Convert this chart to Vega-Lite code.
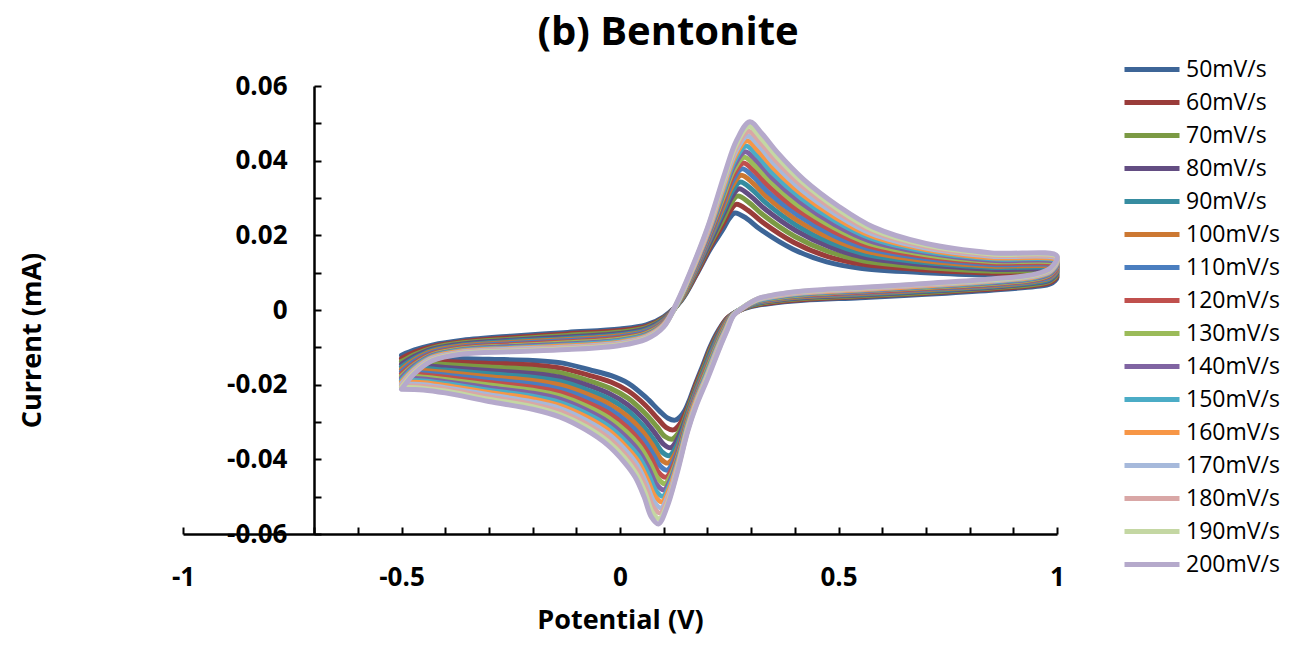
{
"$schema": "https://vega.github.io/schema/vega-lite/v6.json",
"width": 874, "height": 448,
"autosize": "none",
"padding": {"left": 183, "top": 86, "right": 234, "bottom": 111},
"background": "white",
"config": {"view": {"stroke": null}, "font": "Open Sans"},
"title": {"text": "(b) Bentonite", "fontSize": 40, "fontWeight": "bold", "font": "Open Sans", "color": "black", "anchor": "middle", "dx": 48, "offset": -31, "baseline": "alphabetic"},
"data": {"values": [
{"s":50,"o":0,"x":-0.5,"y":-0.0121},{"s":50,"o":1,"x":-0.47,"y":-0.0107},{"s":50,"o":2,"x":-0.43,"y":-0.0094},{"s":50,"o":3,"x":-0.36,"y":-0.0081},{"s":50,"o":4,"x":-0.25,"y":-0.0070},{"s":50,"o":5,"x":-0.12,"y":-0.0060},{"s":50,"o":6,"x":0,"y":-0.0051},{"s":50,"o":7,"x":0.06,"y":-0.0040},{"s":50,"o":8,"x":0.1,"y":-0.0018},{"s":50,"o":9,"x":0.14,"y":0.0025},{"s":50,"o":10,"x":0.175,"y":0.0095},{"s":50,"o":11,"x":0.205,"y":0.0160},{"s":50,"o":12,"x":0.235,"y":0.0215},{"s":50,"o":13,"x":0.25,"y":0.0245},{"s":50,"o":14,"x":0.263,"y":0.0260},{"s":50,"o":15,"x":0.29,"y":0.0245},{"s":50,"o":16,"x":0.32,"y":0.0217},{"s":50,"o":17,"x":0.396,"y":0.0163},{"s":50,"o":18,"x":0.473,"y":0.0129},{"s":50,"o":19,"x":0.55,"y":0.0112},{"s":50,"o":20,"x":0.7,"y":0.0100},{"s":50,"o":21,"x":0.85,"y":0.0093},{"s":50,"o":22,"x":1,"y":0.0088},{"s":50,"o":23,"x":0.985,"y":0.0070},{"s":50,"o":24,"x":0.95,"y":0.0063},{"s":50,"o":25,"x":0.85,"y":0.0053},{"s":50,"o":26,"x":0.7,"y":0.0042},{"s":50,"o":27,"x":0.55,"y":0.0033},{"s":50,"o":28,"x":0.42,"y":0.0026},{"s":50,"o":29,"x":0.34,"y":0.0017},{"s":50,"o":30,"x":0.3,"y":0.0009},{"s":50,"o":31,"x":0.27,"y":-0.0003},{"s":50,"o":32,"x":0.245,"y":-0.0022},{"s":50,"o":33,"x":0.225,"y":-0.0055},{"s":50,"o":34,"x":0.206,"y":-0.0099},{"s":50,"o":35,"x":0.19,"y":-0.0147},{"s":50,"o":36,"x":0.172,"y":-0.0200},{"s":50,"o":37,"x":0.16,"y":-0.0238},{"s":50,"o":38,"x":0.148,"y":-0.0270},{"s":50,"o":39,"x":0.137,"y":-0.0287},{"s":50,"o":40,"x":0.126,"y":-0.0295},{"s":50,"o":41,"x":0.11,"y":-0.0290},{"s":50,"o":42,"x":0.09,"y":-0.0270},{"s":50,"o":43,"x":0.06,"y":-0.0235},{"s":50,"o":44,"x":0.02,"y":-0.0197},{"s":50,"o":45,"x":-0.02,"y":-0.0176},{"s":50,"o":46,"x":-0.07,"y":-0.0160},{"s":50,"o":47,"x":-0.137,"y":-0.0141},{"s":50,"o":48,"x":-0.2,"y":-0.0135},{"s":50,"o":49,"x":-0.3,"y":-0.0132},{"s":50,"o":50,"x":-0.4,"y":-0.0129},{"s":50,"o":51,"x":-0.45,"y":-0.0126},{"s":50,"o":52,"x":-0.5,"y":-0.0122},
{"s":60,"o":0,"x":-0.5,"y":-0.0130},{"s":60,"o":1,"x":-0.47,"y":-0.0113},{"s":60,"o":2,"x":-0.43,"y":-0.0098},{"s":60,"o":3,"x":-0.36,"y":-0.0085},{"s":60,"o":4,"x":-0.25,"y":-0.0074},{"s":60,"o":5,"x":-0.12,"y":-0.0064},{"s":60,"o":6,"x":0,"y":-0.0055},{"s":60,"o":7,"x":0.06,"y":-0.0044},{"s":60,"o":8,"x":0.1,"y":-0.0021},{"s":60,"o":9,"x":0.139,"y":0.0025},{"s":60,"o":10,"x":0.174,"y":0.0095},{"s":60,"o":11,"x":0.205,"y":0.0166},{"s":60,"o":12,"x":0.235,"y":0.0229},{"s":60,"o":13,"x":0.252,"y":0.0265},{"s":60,"o":14,"x":0.266,"y":0.0283},{"s":60,"o":15,"x":0.293,"y":0.0267},{"s":60,"o":16,"x":0.324,"y":0.0237},{"s":60,"o":17,"x":0.398,"y":0.0181},{"s":60,"o":18,"x":0.476,"y":0.0143},{"s":60,"o":19,"x":0.553,"y":0.0123},{"s":60,"o":20,"x":0.7,"y":0.0107},{"s":60,"o":21,"x":0.85,"y":0.0099},{"s":60,"o":22,"x":1,"y":0.0093},{"s":60,"o":23,"x":0.985,"y":0.0074},{"s":60,"o":24,"x":0.95,"y":0.0066},{"s":60,"o":25,"x":0.85,"y":0.0056},{"s":60,"o":26,"x":0.7,"y":0.0045},{"s":60,"o":27,"x":0.55,"y":0.0036},{"s":60,"o":28,"x":0.42,"y":0.0028},{"s":60,"o":29,"x":0.342,"y":0.0019},{"s":60,"o":30,"x":0.301,"y":0.0011},{"s":60,"o":31,"x":0.271,"y":-0.0002},{"s":60,"o":32,"x":0.246,"y":-0.0021},{"s":60,"o":33,"x":0.227,"y":-0.0055},{"s":60,"o":34,"x":0.208,"y":-0.0099},{"s":60,"o":35,"x":0.191,"y":-0.0151},{"s":60,"o":36,"x":0.172,"y":-0.0205},{"s":60,"o":37,"x":0.16,"y":-0.0246},{"s":60,"o":38,"x":0.146,"y":-0.0286},{"s":60,"o":39,"x":0.134,"y":-0.0310},{"s":60,"o":40,"x":0.122,"y":-0.0321},{"s":60,"o":41,"x":0.106,"y":-0.0315},{"s":60,"o":42,"x":0.087,"y":-0.0292},{"s":60,"o":43,"x":0.058,"y":-0.0255},{"s":60,"o":44,"x":0.019,"y":-0.0217},{"s":60,"o":45,"x":-0.021,"y":-0.0193},{"s":60,"o":46,"x":-0.071,"y":-0.0175},{"s":60,"o":47,"x":-0.137,"y":-0.0155},{"s":60,"o":48,"x":-0.2,"y":-0.0147},{"s":60,"o":49,"x":-0.3,"y":-0.0143},{"s":60,"o":50,"x":-0.4,"y":-0.0138},{"s":60,"o":51,"x":-0.45,"y":-0.0134},{"s":60,"o":52,"x":-0.5,"y":-0.0131},
{"s":70,"o":0,"x":-0.5,"y":-0.0138},{"s":70,"o":1,"x":-0.47,"y":-0.0119},{"s":70,"o":2,"x":-0.43,"y":-0.0102},{"s":70,"o":3,"x":-0.36,"y":-0.0088},{"s":70,"o":4,"x":-0.25,"y":-0.0078},{"s":70,"o":5,"x":-0.12,"y":-0.0068},{"s":70,"o":6,"x":0,"y":-0.0059},{"s":70,"o":7,"x":0.06,"y":-0.0047},{"s":70,"o":8,"x":0.1,"y":-0.0023},{"s":70,"o":9,"x":0.138,"y":0.0024},{"s":70,"o":10,"x":0.172,"y":0.0096},{"s":70,"o":11,"x":0.204,"y":0.0171},{"s":70,"o":12,"x":0.236,"y":0.0243},{"s":70,"o":13,"x":0.253,"y":0.0283},{"s":70,"o":14,"x":0.269,"y":0.0305},{"s":70,"o":15,"x":0.296,"y":0.0287},{"s":70,"o":16,"x":0.327,"y":0.0255},{"s":70,"o":17,"x":0.4,"y":0.0197},{"s":70,"o":18,"x":0.478,"y":0.0156},{"s":70,"o":19,"x":0.556,"y":0.0132},{"s":70,"o":20,"x":0.7,"y":0.0114},{"s":70,"o":21,"x":0.85,"y":0.0104},{"s":70,"o":22,"x":1,"y":0.0098},{"s":70,"o":23,"x":0.985,"y":0.0078},{"s":70,"o":24,"x":0.95,"y":0.0069},{"s":70,"o":25,"x":0.85,"y":0.0059},{"s":70,"o":26,"x":0.7,"y":0.0047},{"s":70,"o":27,"x":0.55,"y":0.0038},{"s":70,"o":28,"x":0.42,"y":0.0031},{"s":70,"o":29,"x":0.344,"y":0.0022},{"s":70,"o":30,"x":0.303,"y":0.0013},{"s":70,"o":31,"x":0.272,"y":-0.0002},{"s":70,"o":32,"x":0.248,"y":-0.0021},{"s":70,"o":33,"x":0.229,"y":-0.0055},{"s":70,"o":34,"x":0.21,"y":-0.0099},{"s":70,"o":35,"x":0.192,"y":-0.0154},{"s":70,"o":36,"x":0.173,"y":-0.0210},{"s":70,"o":37,"x":0.159,"y":-0.0254},{"s":70,"o":38,"x":0.145,"y":-0.0301},{"s":70,"o":39,"x":0.132,"y":-0.0332},{"s":70,"o":40,"x":0.119,"y":-0.0346},{"s":70,"o":41,"x":0.103,"y":-0.0339},{"s":70,"o":42,"x":0.084,"y":-0.0312},{"s":70,"o":43,"x":0.055,"y":-0.0274},{"s":70,"o":44,"x":0.018,"y":-0.0236},{"s":70,"o":45,"x":-0.022,"y":-0.0210},{"s":70,"o":46,"x":-0.072,"y":-0.0189},{"s":70,"o":47,"x":-0.137,"y":-0.0168},{"s":70,"o":48,"x":-0.2,"y":-0.0159},{"s":70,"o":49,"x":-0.3,"y":-0.0153},{"s":70,"o":50,"x":-0.4,"y":-0.0146},{"s":70,"o":51,"x":-0.45,"y":-0.0142},{"s":70,"o":52,"x":-0.5,"y":-0.0139},
{"s":80,"o":0,"x":-0.5,"y":-0.0145},{"s":80,"o":1,"x":-0.47,"y":-0.0124},{"s":80,"o":2,"x":-0.43,"y":-0.0105},{"s":80,"o":3,"x":-0.36,"y":-0.0091},{"s":80,"o":4,"x":-0.25,"y":-0.0081},{"s":80,"o":5,"x":-0.12,"y":-0.0072},{"s":80,"o":6,"x":0,"y":-0.0063},{"s":80,"o":7,"x":0.06,"y":-0.0050},{"s":80,"o":8,"x":0.1,"y":-0.0025},{"s":80,"o":9,"x":0.137,"y":0.0024},{"s":80,"o":10,"x":0.171,"y":0.0096},{"s":80,"o":11,"x":0.204,"y":0.0176},{"s":80,"o":12,"x":0.236,"y":0.0255},{"s":80,"o":13,"x":0.255,"y":0.0301},{"s":80,"o":14,"x":0.272,"y":0.0325},{"s":80,"o":15,"x":0.299,"y":0.0305},{"s":80,"o":16,"x":0.331,"y":0.0271},{"s":80,"o":17,"x":0.402,"y":0.0213},{"s":80,"o":18,"x":0.48,"y":0.0169},{"s":80,"o":19,"x":0.558,"y":0.0141},{"s":80,"o":20,"x":0.7,"y":0.0121},{"s":80,"o":21,"x":0.85,"y":0.0109},{"s":80,"o":22,"x":1,"y":0.0103},{"s":80,"o":23,"x":0.985,"y":0.0081},{"s":80,"o":24,"x":0.95,"y":0.0072},{"s":80,"o":25,"x":0.85,"y":0.0061},{"s":80,"o":26,"x":0.7,"y":0.0050},{"s":80,"o":27,"x":0.55,"y":0.0040},{"s":80,"o":28,"x":0.42,"y":0.0033},{"s":80,"o":29,"x":0.345,"y":0.0024},{"s":80,"o":30,"x":0.304,"y":0.0015},{"s":80,"o":31,"x":0.273,"y":-0.0001},{"s":80,"o":32,"x":0.249,"y":-0.0020},{"s":80,"o":33,"x":0.23,"y":-0.0055},{"s":80,"o":34,"x":0.212,"y":-0.0099},{"s":80,"o":35,"x":0.193,"y":-0.0157},{"s":80,"o":36,"x":0.173,"y":-0.0215},{"s":80,"o":37,"x":0.159,"y":-0.0261},{"s":80,"o":38,"x":0.143,"y":-0.0315},{"s":80,"o":39,"x":0.129,"y":-0.0351},{"s":80,"o":40,"x":0.116,"y":-0.0369},{"s":80,"o":41,"x":0.1,"y":-0.0360},{"s":80,"o":42,"x":0.081,"y":-0.0331},{"s":80,"o":43,"x":0.053,"y":-0.0291},{"s":80,"o":44,"x":0.017,"y":-0.0253},{"s":80,"o":45,"x":-0.023,"y":-0.0225},{"s":80,"o":46,"x":-0.073,"y":-0.0202},{"s":80,"o":47,"x":-0.137,"y":-0.0180},{"s":80,"o":48,"x":-0.2,"y":-0.0170},{"s":80,"o":49,"x":-0.3,"y":-0.0162},{"s":80,"o":50,"x":-0.4,"y":-0.0154},{"s":80,"o":51,"x":-0.45,"y":-0.0149},{"s":80,"o":52,"x":-0.5,"y":-0.0146},
{"s":90,"o":0,"x":-0.5,"y":-0.0152},{"s":90,"o":1,"x":-0.47,"y":-0.0129},{"s":90,"o":2,"x":-0.43,"y":-0.0108},{"s":90,"o":3,"x":-0.36,"y":-0.0094},{"s":90,"o":4,"x":-0.25,"y":-0.0084},{"s":90,"o":5,"x":-0.12,"y":-0.0076},{"s":90,"o":6,"x":0,"y":-0.0066},{"s":90,"o":7,"x":0.06,"y":-0.0053},{"s":90,"o":8,"x":0.1,"y":-0.0027},{"s":90,"o":9,"x":0.137,"y":0.0023},{"s":90,"o":10,"x":0.17,"y":0.0097},{"s":90,"o":11,"x":0.203,"y":0.0181},{"s":90,"o":12,"x":0.237,"y":0.0267},{"s":90,"o":13,"x":0.256,"y":0.0317},{"s":90,"o":14,"x":0.275,"y":0.0343},{"s":90,"o":15,"x":0.302,"y":0.0323},{"s":90,"o":16,"x":0.334,"y":0.0287},{"s":90,"o":17,"x":0.404,"y":0.0227},{"s":90,"o":18,"x":0.482,"y":0.0180},{"s":90,"o":19,"x":0.56,"y":0.0150},{"s":90,"o":20,"x":0.7,"y":0.0127},{"s":90,"o":21,"x":0.85,"y":0.0114},{"s":90,"o":22,"x":1,"y":0.0108},{"s":90,"o":23,"x":0.985,"y":0.0084},{"s":90,"o":24,"x":0.95,"y":0.0074},{"s":90,"o":25,"x":0.85,"y":0.0063},{"s":90,"o":26,"x":0.7,"y":0.0052},{"s":90,"o":27,"x":0.55,"y":0.0042},{"s":90,"o":28,"x":0.42,"y":0.0035},{"s":90,"o":29,"x":0.347,"y":0.0026},{"s":90,"o":30,"x":0.305,"y":0.0016},{"s":90,"o":31,"x":0.273,"y":0},{"s":90,"o":32,"x":0.25,"y":-0.0020},{"s":90,"o":33,"x":0.232,"y":-0.0055},{"s":90,"o":34,"x":0.214,"y":-0.0099},{"s":90,"o":35,"x":0.193,"y":-0.0160},{"s":90,"o":36,"x":0.173,"y":-0.0219},{"s":90,"o":37,"x":0.158,"y":-0.0268},{"s":90,"o":38,"x":0.142,"y":-0.0328},{"s":90,"o":39,"x":0.127,"y":-0.0370},{"s":90,"o":40,"x":0.113,"y":-0.0390},{"s":90,"o":41,"x":0.097,"y":-0.0381},{"s":90,"o":42,"x":0.078,"y":-0.0349},{"s":90,"o":43,"x":0.051,"y":-0.0308},{"s":90,"o":44,"x":0.017,"y":-0.0269},{"s":90,"o":45,"x":-0.023,"y":-0.0239},{"s":90,"o":46,"x":-0.073,"y":-0.0215},{"s":90,"o":47,"x":-0.137,"y":-0.0191},{"s":90,"o":48,"x":-0.2,"y":-0.0180},{"s":90,"o":49,"x":-0.3,"y":-0.0171},{"s":90,"o":50,"x":-0.4,"y":-0.0161},{"s":90,"o":51,"x":-0.45,"y":-0.0156},{"s":90,"o":52,"x":-0.5,"y":-0.0153},
{"s":100,"o":0,"x":-0.5,"y":-0.0159},{"s":100,"o":1,"x":-0.47,"y":-0.0133},{"s":100,"o":2,"x":-0.43,"y":-0.0111},{"s":100,"o":3,"x":-0.36,"y":-0.0096},{"s":100,"o":4,"x":-0.25,"y":-0.0087},{"s":100,"o":5,"x":-0.12,"y":-0.0079},{"s":100,"o":6,"x":0,"y":-0.0069},{"s":100,"o":7,"x":0.06,"y":-0.0056},{"s":100,"o":8,"x":0.1,"y":-0.0029},{"s":100,"o":9,"x":0.136,"y":0.0023},{"s":100,"o":10,"x":0.169,"y":0.0097},{"s":100,"o":11,"x":0.203,"y":0.0185},{"s":100,"o":12,"x":0.237,"y":0.0278},{"s":100,"o":13,"x":0.257,"y":0.0332},{"s":100,"o":14,"x":0.277,"y":0.0361},{"s":100,"o":15,"x":0.305,"y":0.0339},{"s":100,"o":16,"x":0.337,"y":0.0302},{"s":100,"o":17,"x":0.406,"y":0.0240},{"s":100,"o":18,"x":0.484,"y":0.0191},{"s":100,"o":19,"x":0.562,"y":0.0158},{"s":100,"o":20,"x":0.7,"y":0.0132},{"s":100,"o":21,"x":0.85,"y":0.0118},{"s":100,"o":22,"x":1,"y":0.0112},{"s":100,"o":23,"x":0.985,"y":0.0087},{"s":100,"o":24,"x":0.95,"y":0.0077},{"s":100,"o":25,"x":0.85,"y":0.0065},{"s":100,"o":26,"x":0.7,"y":0.0054},{"s":100,"o":27,"x":0.55,"y":0.0044},{"s":100,"o":28,"x":0.42,"y":0.0036},{"s":100,"o":29,"x":0.348,"y":0.0027},{"s":100,"o":30,"x":0.306,"y":0.0018},{"s":100,"o":31,"x":0.274,"y":0},{"s":100,"o":32,"x":0.251,"y":-0.0019},{"s":100,"o":33,"x":0.233,"y":-0.0055},{"s":100,"o":34,"x":0.216,"y":-0.0099},{"s":100,"o":35,"x":0.194,"y":-0.0163},{"s":100,"o":36,"x":0.173,"y":-0.0223},{"s":100,"o":37,"x":0.158,"y":-0.0274},{"s":100,"o":38,"x":0.141,"y":-0.0340},{"s":100,"o":39,"x":0.125,"y":-0.0388},{"s":100,"o":40,"x":0.11,"y":-0.0410},{"s":100,"o":41,"x":0.094,"y":-0.0400},{"s":100,"o":42,"x":0.076,"y":-0.0365},{"s":100,"o":43,"x":0.05,"y":-0.0323},{"s":100,"o":44,"x":0.016,"y":-0.0284},{"s":100,"o":45,"x":-0.024,"y":-0.0252},{"s":100,"o":46,"x":-0.074,"y":-0.0226},{"s":100,"o":47,"x":-0.137,"y":-0.0201},{"s":100,"o":48,"x":-0.2,"y":-0.0189},{"s":100,"o":49,"x":-0.3,"y":-0.0179},{"s":100,"o":50,"x":-0.4,"y":-0.0167},{"s":100,"o":51,"x":-0.45,"y":-0.0162},{"s":100,"o":52,"x":-0.5,"y":-0.0159},
{"s":110,"o":0,"x":-0.5,"y":-0.0165},{"s":110,"o":1,"x":-0.47,"y":-0.0137},{"s":110,"o":2,"x":-0.43,"y":-0.0114},{"s":110,"o":3,"x":-0.36,"y":-0.0099},{"s":110,"o":4,"x":-0.25,"y":-0.0090},{"s":110,"o":5,"x":-0.12,"y":-0.0082},{"s":110,"o":6,"x":0,"y":-0.0072},{"s":110,"o":7,"x":0.06,"y":-0.0058},{"s":110,"o":8,"x":0.1,"y":-0.0031},{"s":110,"o":9,"x":0.135,"y":0.0023},{"s":110,"o":10,"x":0.168,"y":0.0097},{"s":110,"o":11,"x":0.203,"y":0.0189},{"s":110,"o":12,"x":0.237,"y":0.0288},{"s":110,"o":13,"x":0.258,"y":0.0346},{"s":110,"o":14,"x":0.279,"y":0.0378},{"s":110,"o":15,"x":0.307,"y":0.0355},{"s":110,"o":16,"x":0.339,"y":0.0316},{"s":110,"o":17,"x":0.408,"y":0.0253},{"s":110,"o":18,"x":0.486,"y":0.0201},{"s":110,"o":19,"x":0.565,"y":0.0165},{"s":110,"o":20,"x":0.7,"y":0.0138},{"s":110,"o":21,"x":0.85,"y":0.0122},{"s":110,"o":22,"x":1,"y":0.0116},{"s":110,"o":23,"x":0.985,"y":0.0090},{"s":110,"o":24,"x":0.95,"y":0.0079},{"s":110,"o":25,"x":0.85,"y":0.0067},{"s":110,"o":26,"x":0.7,"y":0.0056},{"s":110,"o":27,"x":0.55,"y":0.0046},{"s":110,"o":28,"x":0.42,"y":0.0038},{"s":110,"o":29,"x":0.35,"y":0.0029},{"s":110,"o":30,"x":0.307,"y":0.0019},{"s":110,"o":31,"x":0.275,"y":0.0001},{"s":110,"o":32,"x":0.252,"y":-0.0019},{"s":110,"o":33,"x":0.235,"y":-0.0055},{"s":110,"o":34,"x":0.217,"y":-0.0099},{"s":110,"o":35,"x":0.195,"y":-0.0165},{"s":110,"o":36,"x":0.173,"y":-0.0227},{"s":110,"o":37,"x":0.158,"y":-0.0280},{"s":110,"o":38,"x":0.139,"y":-0.0352},{"s":110,"o":39,"x":0.123,"y":-0.0404},{"s":110,"o":40,"x":0.108,"y":-0.0429},{"s":110,"o":41,"x":0.092,"y":-0.0418},{"s":110,"o":42,"x":0.073,"y":-0.0381},{"s":110,"o":43,"x":0.048,"y":-0.0338},{"s":110,"o":44,"x":0.015,"y":-0.0299},{"s":110,"o":45,"x":-0.025,"y":-0.0265},{"s":110,"o":46,"x":-0.075,"y":-0.0237},{"s":110,"o":47,"x":-0.137,"y":-0.0212},{"s":110,"o":48,"x":-0.2,"y":-0.0198},{"s":110,"o":49,"x":-0.3,"y":-0.0187},{"s":110,"o":50,"x":-0.4,"y":-0.0174},{"s":110,"o":51,"x":-0.45,"y":-0.0169},{"s":110,"o":52,"x":-0.5,"y":-0.0165},
{"s":120,"o":0,"x":-0.5,"y":-0.0171},{"s":120,"o":1,"x":-0.47,"y":-0.0142},{"s":120,"o":2,"x":-0.43,"y":-0.0117},{"s":120,"o":3,"x":-0.36,"y":-0.0101},{"s":120,"o":4,"x":-0.25,"y":-0.0093},{"s":120,"o":5,"x":-0.12,"y":-0.0085},{"s":120,"o":6,"x":0,"y":-0.0075},{"s":120,"o":7,"x":0.06,"y":-0.0061},{"s":120,"o":8,"x":0.1,"y":-0.0033},{"s":120,"o":9,"x":0.135,"y":0.0022},{"s":120,"o":10,"x":0.167,"y":0.0098},{"s":120,"o":11,"x":0.202,"y":0.0193},{"s":120,"o":12,"x":0.238,"y":0.0298},{"s":120,"o":13,"x":0.259,"y":0.0360},{"s":120,"o":14,"x":0.282,"y":0.0394},{"s":120,"o":15,"x":0.309,"y":0.0370},{"s":120,"o":16,"x":0.342,"y":0.0330},{"s":120,"o":17,"x":0.409,"y":0.0266},{"s":120,"o":18,"x":0.488,"y":0.0211},{"s":120,"o":19,"x":0.567,"y":0.0172},{"s":120,"o":20,"x":0.7,"y":0.0143},{"s":120,"o":21,"x":0.85,"y":0.0126},{"s":120,"o":22,"x":1,"y":0.0119},{"s":120,"o":23,"x":0.985,"y":0.0093},{"s":120,"o":24,"x":0.95,"y":0.0081},{"s":120,"o":25,"x":0.85,"y":0.0069},{"s":120,"o":26,"x":0.7,"y":0.0058},{"s":120,"o":27,"x":0.55,"y":0.0048},{"s":120,"o":28,"x":0.42,"y":0.0040},{"s":120,"o":29,"x":0.351,"y":0.0031},{"s":120,"o":30,"x":0.308,"y":0.0021},{"s":120,"o":31,"x":0.275,"y":0.0001},{"s":120,"o":32,"x":0.253,"y":-0.0018},{"s":120,"o":33,"x":0.236,"y":-0.0055},{"s":120,"o":34,"x":0.219,"y":-0.0099},{"s":120,"o":35,"x":0.195,"y":-0.0168},{"s":120,"o":36,"x":0.174,"y":-0.0230},{"s":120,"o":37,"x":0.157,"y":-0.0286},{"s":120,"o":38,"x":0.138,"y":-0.0363},{"s":120,"o":39,"x":0.121,"y":-0.0420},{"s":120,"o":40,"x":0.105,"y":-0.0448},{"s":120,"o":41,"x":0.089,"y":-0.0436},{"s":120,"o":42,"x":0.071,"y":-0.0396},{"s":120,"o":43,"x":0.046,"y":-0.0352},{"s":120,"o":44,"x":0.015,"y":-0.0313},{"s":120,"o":45,"x":-0.025,"y":-0.0277},{"s":120,"o":46,"x":-0.075,"y":-0.0248},{"s":120,"o":47,"x":-0.137,"y":-0.0221},{"s":120,"o":48,"x":-0.2,"y":-0.0207},{"s":120,"o":49,"x":-0.3,"y":-0.0194},{"s":120,"o":50,"x":-0.4,"y":-0.0180},{"s":120,"o":51,"x":-0.45,"y":-0.0174},{"s":120,"o":52,"x":-0.5,"y":-0.0171},
{"s":130,"o":0,"x":-0.5,"y":-0.0177},{"s":130,"o":1,"x":-0.47,"y":-0.0146},{"s":130,"o":2,"x":-0.43,"y":-0.0120},{"s":130,"o":3,"x":-0.36,"y":-0.0104},{"s":130,"o":4,"x":-0.25,"y":-0.0096},{"s":130,"o":5,"x":-0.12,"y":-0.0088},{"s":130,"o":6,"x":0,"y":-0.0078},{"s":130,"o":7,"x":0.06,"y":-0.0063},{"s":130,"o":8,"x":0.1,"y":-0.0035},{"s":130,"o":9,"x":0.134,"y":0.0022},{"s":130,"o":10,"x":0.166,"y":0.0098},{"s":130,"o":11,"x":0.202,"y":0.0197},{"s":130,"o":12,"x":0.238,"y":0.0308},{"s":130,"o":13,"x":0.26,"y":0.0374},{"s":130,"o":14,"x":0.284,"y":0.0409},{"s":130,"o":15,"x":0.311,"y":0.0384},{"s":130,"o":16,"x":0.345,"y":0.0343},{"s":130,"o":17,"x":0.411,"y":0.0277},{"s":130,"o":18,"x":0.49,"y":0.0220},{"s":130,"o":19,"x":0.568,"y":0.0179},{"s":130,"o":20,"x":0.7,"y":0.0148},{"s":130,"o":21,"x":0.85,"y":0.0130},{"s":130,"o":22,"x":1,"y":0.0123},{"s":130,"o":23,"x":0.985,"y":0.0096},{"s":130,"o":24,"x":0.95,"y":0.0083},{"s":130,"o":25,"x":0.85,"y":0.0071},{"s":130,"o":26,"x":0.7,"y":0.0060},{"s":130,"o":27,"x":0.55,"y":0.0050},{"s":130,"o":28,"x":0.42,"y":0.0041},{"s":130,"o":29,"x":0.352,"y":0.0032},{"s":130,"o":30,"x":0.309,"y":0.0022},{"s":130,"o":31,"x":0.276,"y":0.0002},{"s":130,"o":32,"x":0.254,"y":-0.0018},{"s":130,"o":33,"x":0.237,"y":-0.0055},{"s":130,"o":34,"x":0.22,"y":-0.0099},{"s":130,"o":35,"x":0.196,"y":-0.0170},{"s":130,"o":36,"x":0.174,"y":-0.0234},{"s":130,"o":37,"x":0.157,"y":-0.0291},{"s":130,"o":38,"x":0.137,"y":-0.0374},{"s":130,"o":39,"x":0.119,"y":-0.0436},{"s":130,"o":40,"x":0.103,"y":-0.0465},{"s":130,"o":41,"x":0.087,"y":-0.0452},{"s":130,"o":42,"x":0.069,"y":-0.0411},{"s":130,"o":43,"x":0.045,"y":-0.0365},{"s":130,"o":44,"x":0.014,"y":-0.0326},{"s":130,"o":45,"x":-0.026,"y":-0.0289},{"s":130,"o":46,"x":-0.076,"y":-0.0258},{"s":130,"o":47,"x":-0.137,"y":-0.0230},{"s":130,"o":48,"x":-0.2,"y":-0.0215},{"s":130,"o":49,"x":-0.3,"y":-0.0201},{"s":130,"o":50,"x":-0.4,"y":-0.0186},{"s":130,"o":51,"x":-0.45,"y":-0.0180},{"s":130,"o":52,"x":-0.5,"y":-0.0177},
{"s":140,"o":0,"x":-0.5,"y":-0.0182},{"s":140,"o":1,"x":-0.47,"y":-0.0149},{"s":140,"o":2,"x":-0.43,"y":-0.0122},{"s":140,"o":3,"x":-0.36,"y":-0.0106},{"s":140,"o":4,"x":-0.25,"y":-0.0098},{"s":140,"o":5,"x":-0.12,"y":-0.0091},{"s":140,"o":6,"x":0,"y":-0.0081},{"s":140,"o":7,"x":0.06,"y":-0.0066},{"s":140,"o":8,"x":0.1,"y":-0.0036},{"s":140,"o":9,"x":0.133,"y":0.0022},{"s":140,"o":10,"x":0.165,"y":0.0098},{"s":140,"o":11,"x":0.202,"y":0.0200},{"s":140,"o":12,"x":0.238,"y":0.0317},{"s":140,"o":13,"x":0.261,"y":0.0386},{"s":140,"o":14,"x":0.286,"y":0.0424},{"s":140,"o":15,"x":0.314,"y":0.0398},{"s":140,"o":16,"x":0.347,"y":0.0355},{"s":140,"o":17,"x":0.412,"y":0.0289},{"s":140,"o":18,"x":0.491,"y":0.0229},{"s":140,"o":19,"x":0.57,"y":0.0186},{"s":140,"o":20,"x":0.7,"y":0.0153},{"s":140,"o":21,"x":0.85,"y":0.0133},{"s":140,"o":22,"x":1,"y":0.0126},{"s":140,"o":23,"x":0.985,"y":0.0098},{"s":140,"o":24,"x":0.95,"y":0.0085},{"s":140,"o":25,"x":0.85,"y":0.0073},{"s":140,"o":26,"x":0.7,"y":0.0062},{"s":140,"o":27,"x":0.55,"y":0.0051},{"s":140,"o":28,"x":0.42,"y":0.0043},{"s":140,"o":29,"x":0.353,"y":0.0034},{"s":140,"o":30,"x":0.31,"y":0.0023},{"s":140,"o":31,"x":0.277,"y":0.0002},{"s":140,"o":32,"x":0.255,"y":-0.0017},{"s":140,"o":33,"x":0.239,"y":-0.0055},{"s":140,"o":34,"x":0.222,"y":-0.0099},{"s":140,"o":35,"x":0.197,"y":-0.0173},{"s":140,"o":36,"x":0.174,"y":-0.0237},{"s":140,"o":37,"x":0.157,"y":-0.0297},{"s":140,"o":38,"x":0.136,"y":-0.0384},{"s":140,"o":39,"x":0.117,"y":-0.0451},{"s":140,"o":40,"x":0.1,"y":-0.0482},{"s":140,"o":41,"x":0.084,"y":-0.0468},{"s":140,"o":42,"x":0.066,"y":-0.0425},{"s":140,"o":43,"x":0.043,"y":-0.0378},{"s":140,"o":44,"x":0.013,"y":-0.0339},{"s":140,"o":45,"x":-0.027,"y":-0.0300},{"s":140,"o":46,"x":-0.077,"y":-0.0268},{"s":140,"o":47,"x":-0.137,"y":-0.0239},{"s":140,"o":48,"x":-0.2,"y":-0.0223},{"s":140,"o":49,"x":-0.3,"y":-0.0208},{"s":140,"o":50,"x":-0.4,"y":-0.0192},{"s":140,"o":51,"x":-0.45,"y":-0.0185},{"s":140,"o":52,"x":-0.5,"y":-0.0183},
{"s":150,"o":0,"x":-0.5,"y":-0.0188},{"s":150,"o":1,"x":-0.47,"y":-0.0153},{"s":150,"o":2,"x":-0.43,"y":-0.0125},{"s":150,"o":3,"x":-0.36,"y":-0.0108},{"s":150,"o":4,"x":-0.25,"y":-0.0101},{"s":150,"o":5,"x":-0.12,"y":-0.0094},{"s":150,"o":6,"x":0,"y":-0.0083},{"s":150,"o":7,"x":0.06,"y":-0.0068},{"s":150,"o":8,"x":0.1,"y":-0.0038},{"s":150,"o":9,"x":0.133,"y":0.0021},{"s":150,"o":10,"x":0.164,"y":0.0099},{"s":150,"o":11,"x":0.201,"y":0.0204},{"s":150,"o":12,"x":0.239,"y":0.0326},{"s":150,"o":13,"x":0.262,"y":0.0399},{"s":150,"o":14,"x":0.288,"y":0.0439},{"s":150,"o":15,"x":0.316,"y":0.0411},{"s":150,"o":16,"x":0.349,"y":0.0367},{"s":150,"o":17,"x":0.414,"y":0.0300},{"s":150,"o":18,"x":0.493,"y":0.0238},{"s":150,"o":19,"x":0.572,"y":0.0193},{"s":150,"o":20,"x":0.7,"y":0.0157},{"s":150,"o":21,"x":0.85,"y":0.0137},{"s":150,"o":22,"x":1,"y":0.0130},{"s":150,"o":23,"x":0.985,"y":0.0101},{"s":150,"o":24,"x":0.95,"y":0.0087},{"s":150,"o":25,"x":0.85,"y":0.0075},{"s":150,"o":26,"x":0.7,"y":0.0063},{"s":150,"o":27,"x":0.55,"y":0.0053},{"s":150,"o":28,"x":0.42,"y":0.0044},{"s":150,"o":29,"x":0.355,"y":0.0035},{"s":150,"o":30,"x":0.311,"y":0.0024},{"s":150,"o":31,"x":0.277,"y":0.0003},{"s":150,"o":32,"x":0.256,"y":-0.0017},{"s":150,"o":33,"x":0.24,"y":-0.0055},{"s":150,"o":34,"x":0.223,"y":-0.0099},{"s":150,"o":35,"x":0.197,"y":-0.0175},{"s":150,"o":36,"x":0.174,"y":-0.0240},{"s":150,"o":37,"x":0.156,"y":-0.0302},{"s":150,"o":38,"x":0.135,"y":-0.0394},{"s":150,"o":39,"x":0.115,"y":-0.0465},{"s":150,"o":40,"x":0.098,"y":-0.0499},{"s":150,"o":41,"x":0.082,"y":-0.0484},{"s":150,"o":42,"x":0.064,"y":-0.0438},{"s":150,"o":43,"x":0.042,"y":-0.0391},{"s":150,"o":44,"x":0.013,"y":-0.0352},{"s":150,"o":45,"x":-0.027,"y":-0.0311},{"s":150,"o":46,"x":-0.077,"y":-0.0277},{"s":150,"o":47,"x":-0.137,"y":-0.0248},{"s":150,"o":48,"x":-0.2,"y":-0.0231},{"s":150,"o":49,"x":-0.3,"y":-0.0215},{"s":150,"o":50,"x":-0.4,"y":-0.0197},{"s":150,"o":51,"x":-0.45,"y":-0.0190},{"s":150,"o":52,"x":-0.5,"y":-0.0188},
{"s":160,"o":0,"x":-0.5,"y":-0.0193},{"s":160,"o":1,"x":-0.47,"y":-0.0157},{"s":160,"o":2,"x":-0.43,"y":-0.0127},{"s":160,"o":3,"x":-0.36,"y":-0.0110},{"s":160,"o":4,"x":-0.25,"y":-0.0103},{"s":160,"o":5,"x":-0.12,"y":-0.0096},{"s":160,"o":6,"x":0,"y":-0.0086},{"s":160,"o":7,"x":0.06,"y":-0.0070},{"s":160,"o":8,"x":0.1,"y":-0.0039},{"s":160,"o":9,"x":0.132,"y":0.0021},{"s":160,"o":10,"x":0.163,"y":0.0099},{"s":160,"o":11,"x":0.201,"y":0.0207},{"s":160,"o":12,"x":0.239,"y":0.0335},{"s":160,"o":13,"x":0.263,"y":0.0411},{"s":160,"o":14,"x":0.29,"y":0.0453},{"s":160,"o":15,"x":0.318,"y":0.0424},{"s":160,"o":16,"x":0.352,"y":0.0379},{"s":160,"o":17,"x":0.415,"y":0.0311},{"s":160,"o":18,"x":0.494,"y":0.0247},{"s":160,"o":19,"x":0.574,"y":0.0199},{"s":160,"o":20,"x":0.7,"y":0.0162},{"s":160,"o":21,"x":0.85,"y":0.0140},{"s":160,"o":22,"x":1,"y":0.0133},{"s":160,"o":23,"x":0.985,"y":0.0103},{"s":160,"o":24,"x":0.95,"y":0.0089},{"s":160,"o":25,"x":0.85,"y":0.0077},{"s":160,"o":26,"x":0.7,"y":0.0065},{"s":160,"o":27,"x":0.55,"y":0.0054},{"s":160,"o":28,"x":0.42,"y":0.0046},{"s":160,"o":29,"x":0.356,"y":0.0037},{"s":160,"o":30,"x":0.312,"y":0.0026},{"s":160,"o":31,"x":0.278,"y":0.0003},{"s":160,"o":32,"x":0.257,"y":-0.0017},{"s":160,"o":33,"x":0.241,"y":-0.0055},{"s":160,"o":34,"x":0.224,"y":-0.0099},{"s":160,"o":35,"x":0.198,"y":-0.0177},{"s":160,"o":36,"x":0.174,"y":-0.0243},{"s":160,"o":37,"x":0.156,"y":-0.0307},{"s":160,"o":38,"x":0.134,"y":-0.0404},{"s":160,"o":39,"x":0.113,"y":-0.0479},{"s":160,"o":40,"x":0.096,"y":-0.0514},{"s":160,"o":41,"x":0.08,"y":-0.0499},{"s":160,"o":42,"x":0.062,"y":-0.0452},{"s":160,"o":43,"x":0.04,"y":-0.0403},{"s":160,"o":44,"x":0.012,"y":-0.0364},{"s":160,"o":45,"x":-0.028,"y":-0.0321},{"s":160,"o":46,"x":-0.078,"y":-0.0286},{"s":160,"o":47,"x":-0.137,"y":-0.0256},{"s":160,"o":48,"x":-0.2,"y":-0.0238},{"s":160,"o":49,"x":-0.3,"y":-0.0221},{"s":160,"o":50,"x":-0.4,"y":-0.0202},{"s":160,"o":51,"x":-0.45,"y":-0.0195},{"s":160,"o":52,"x":-0.5,"y":-0.0193},
{"s":170,"o":0,"x":-0.5,"y":-0.0198},{"s":170,"o":1,"x":-0.47,"y":-0.0160},{"s":170,"o":2,"x":-0.43,"y":-0.0129},{"s":170,"o":3,"x":-0.36,"y":-0.0112},{"s":170,"o":4,"x":-0.25,"y":-0.0105},{"s":170,"o":5,"x":-0.12,"y":-0.0099},{"s":170,"o":6,"x":0,"y":-0.0088},{"s":170,"o":7,"x":0.06,"y":-0.0072},{"s":170,"o":8,"x":0.1,"y":-0.0041},{"s":170,"o":9,"x":0.132,"y":0.0021},{"s":170,"o":10,"x":0.162,"y":0.0099},{"s":170,"o":11,"x":0.201,"y":0.0211},{"s":170,"o":12,"x":0.239,"y":0.0343},{"s":170,"o":13,"x":0.264,"y":0.0422},{"s":170,"o":14,"x":0.292,"y":0.0466},{"s":170,"o":15,"x":0.32,"y":0.0437},{"s":170,"o":16,"x":0.354,"y":0.0390},{"s":170,"o":17,"x":0.416,"y":0.0321},{"s":170,"o":18,"x":0.496,"y":0.0255},{"s":170,"o":19,"x":0.575,"y":0.0205},{"s":170,"o":20,"x":0.7,"y":0.0166},{"s":170,"o":21,"x":0.85,"y":0.0144},{"s":170,"o":22,"x":1,"y":0.0136},{"s":170,"o":23,"x":0.985,"y":0.0105},{"s":170,"o":24,"x":0.95,"y":0.0091},{"s":170,"o":25,"x":0.85,"y":0.0078},{"s":170,"o":26,"x":0.7,"y":0.0067},{"s":170,"o":27,"x":0.55,"y":0.0056},{"s":170,"o":28,"x":0.42,"y":0.0047},{"s":170,"o":29,"x":0.357,"y":0.0038},{"s":170,"o":30,"x":0.313,"y":0.0027},{"s":170,"o":31,"x":0.278,"y":0.0004},{"s":170,"o":32,"x":0.258,"y":-0.0016},{"s":170,"o":33,"x":0.242,"y":-0.0055},{"s":170,"o":34,"x":0.225,"y":-0.0099},{"s":170,"o":35,"x":0.198,"y":-0.0179},{"s":170,"o":36,"x":0.175,"y":-0.0246},{"s":170,"o":37,"x":0.156,"y":-0.0311},{"s":170,"o":38,"x":0.133,"y":-0.0414},{"s":170,"o":39,"x":0.112,"y":-0.0492},{"s":170,"o":40,"x":0.094,"y":-0.0530},{"s":170,"o":41,"x":0.078,"y":-0.0514},{"s":170,"o":42,"x":0.06,"y":-0.0464},{"s":170,"o":43,"x":0.039,"y":-0.0415},{"s":170,"o":44,"x":0.012,"y":-0.0375},{"s":170,"o":45,"x":-0.028,"y":-0.0331},{"s":170,"o":46,"x":-0.078,"y":-0.0295},{"s":170,"o":47,"x":-0.137,"y":-0.0264},{"s":170,"o":48,"x":-0.2,"y":-0.0246},{"s":170,"o":49,"x":-0.3,"y":-0.0227},{"s":170,"o":50,"x":-0.4,"y":-0.0208},{"s":170,"o":51,"x":-0.45,"y":-0.0200},{"s":170,"o":52,"x":-0.5,"y":-0.0198},
{"s":180,"o":0,"x":-0.5,"y":-0.0203},{"s":180,"o":1,"x":-0.47,"y":-0.0164},{"s":180,"o":2,"x":-0.43,"y":-0.0132},{"s":180,"o":3,"x":-0.36,"y":-0.0114},{"s":180,"o":4,"x":-0.25,"y":-0.0108},{"s":180,"o":5,"x":-0.12,"y":-0.0101},{"s":180,"o":6,"x":0,"y":-0.0091},{"s":180,"o":7,"x":0.06,"y":-0.0074},{"s":180,"o":8,"x":0.1,"y":-0.0042},{"s":180,"o":9,"x":0.131,"y":0.0020},{"s":180,"o":10,"x":0.162,"y":0.0099},{"s":180,"o":11,"x":0.201,"y":0.0214},{"s":180,"o":12,"x":0.239,"y":0.0351},{"s":180,"o":13,"x":0.265,"y":0.0433},{"s":180,"o":14,"x":0.294,"y":0.0479},{"s":180,"o":15,"x":0.321,"y":0.0449},{"s":180,"o":16,"x":0.356,"y":0.0401},{"s":180,"o":17,"x":0.418,"y":0.0331},{"s":180,"o":18,"x":0.497,"y":0.0263},{"s":180,"o":19,"x":0.577,"y":0.0211},{"s":180,"o":20,"x":0.7,"y":0.0170},{"s":180,"o":21,"x":0.85,"y":0.0147},{"s":180,"o":22,"x":1,"y":0.0139},{"s":180,"o":23,"x":0.985,"y":0.0108},{"s":180,"o":24,"x":0.95,"y":0.0093},{"s":180,"o":25,"x":0.85,"y":0.0080},{"s":180,"o":26,"x":0.7,"y":0.0068},{"s":180,"o":27,"x":0.55,"y":0.0057},{"s":180,"o":28,"x":0.42,"y":0.0048},{"s":180,"o":29,"x":0.358,"y":0.0039},{"s":180,"o":30,"x":0.313,"y":0.0028},{"s":180,"o":31,"x":0.279,"y":0.0004},{"s":180,"o":32,"x":0.258,"y":-0.0016},{"s":180,"o":33,"x":0.243,"y":-0.0055},{"s":180,"o":34,"x":0.227,"y":-0.0099},{"s":180,"o":35,"x":0.199,"y":-0.0181},{"s":180,"o":36,"x":0.175,"y":-0.0249},{"s":180,"o":37,"x":0.156,"y":-0.0316},{"s":180,"o":38,"x":0.132,"y":-0.0423},{"s":180,"o":39,"x":0.11,"y":-0.0505},{"s":180,"o":40,"x":0.092,"y":-0.0544},{"s":180,"o":41,"x":0.076,"y":-0.0528},{"s":180,"o":42,"x":0.059,"y":-0.0476},{"s":180,"o":43,"x":0.038,"y":-0.0426},{"s":180,"o":44,"x":0.011,"y":-0.0386},{"s":180,"o":45,"x":-0.029,"y":-0.0341},{"s":180,"o":46,"x":-0.079,"y":-0.0304},{"s":180,"o":47,"x":-0.137,"y":-0.0272},{"s":180,"o":48,"x":-0.2,"y":-0.0253},{"s":180,"o":49,"x":-0.3,"y":-0.0233},{"s":180,"o":50,"x":-0.4,"y":-0.0212},{"s":180,"o":51,"x":-0.45,"y":-0.0205},{"s":180,"o":52,"x":-0.5,"y":-0.0203},
{"s":190,"o":0,"x":-0.5,"y":-0.0207},{"s":190,"o":1,"x":-0.47,"y":-0.0167},{"s":190,"o":2,"x":-0.43,"y":-0.0134},{"s":190,"o":3,"x":-0.36,"y":-0.0116},{"s":190,"o":4,"x":-0.25,"y":-0.0110},{"s":190,"o":5,"x":-0.12,"y":-0.0104},{"s":190,"o":6,"x":0,"y":-0.0093},{"s":190,"o":7,"x":0.06,"y":-0.0076},{"s":190,"o":8,"x":0.1,"y":-0.0044},{"s":190,"o":9,"x":0.131,"y":0.0020},{"s":190,"o":10,"x":0.161,"y":0.0100},{"s":190,"o":11,"x":0.2,"y":0.0217},{"s":190,"o":12,"x":0.24,"y":0.0359},{"s":190,"o":13,"x":0.266,"y":0.0444},{"s":190,"o":14,"x":0.295,"y":0.0492},{"s":190,"o":15,"x":0.323,"y":0.0460},{"s":190,"o":16,"x":0.358,"y":0.0412},{"s":190,"o":17,"x":0.419,"y":0.0341},{"s":190,"o":18,"x":0.499,"y":0.0270},{"s":190,"o":19,"x":0.578,"y":0.0216},{"s":190,"o":20,"x":0.7,"y":0.0174},{"s":190,"o":21,"x":0.85,"y":0.0150},{"s":190,"o":22,"x":1,"y":0.0142},{"s":190,"o":23,"x":0.985,"y":0.0110},{"s":190,"o":24,"x":0.95,"y":0.0094},{"s":190,"o":25,"x":0.85,"y":0.0081},{"s":190,"o":26,"x":0.7,"y":0.0070},{"s":190,"o":27,"x":0.55,"y":0.0059},{"s":190,"o":28,"x":0.42,"y":0.0050},{"s":190,"o":29,"x":0.359,"y":0.0041},{"s":190,"o":30,"x":0.314,"y":0.0029},{"s":190,"o":31,"x":0.279,"y":0.0005},{"s":190,"o":32,"x":0.259,"y":-0.0015},{"s":190,"o":33,"x":0.244,"y":-0.0055},{"s":190,"o":34,"x":0.228,"y":-0.0099},{"s":190,"o":35,"x":0.199,"y":-0.0183},{"s":190,"o":36,"x":0.175,"y":-0.0252},{"s":190,"o":37,"x":0.155,"y":-0.0321},{"s":190,"o":38,"x":0.131,"y":-0.0431},{"s":190,"o":39,"x":0.109,"y":-0.0518},{"s":190,"o":40,"x":0.09,"y":-0.0559},{"s":190,"o":41,"x":0.074,"y":-0.0542},{"s":190,"o":42,"x":0.057,"y":-0.0488},{"s":190,"o":43,"x":0.036,"y":-0.0437},{"s":190,"o":44,"x":0.011,"y":-0.0397},{"s":190,"o":45,"x":-0.029,"y":-0.0351},{"s":190,"o":46,"x":-0.079,"y":-0.0312},{"s":190,"o":47,"x":-0.137,"y":-0.0280},{"s":190,"o":48,"x":-0.2,"y":-0.0259},{"s":190,"o":49,"x":-0.3,"y":-0.0239},{"s":190,"o":50,"x":-0.4,"y":-0.0217},{"s":190,"o":51,"x":-0.45,"y":-0.0210},{"s":190,"o":52,"x":-0.5,"y":-0.0207},
{"s":200,"o":0,"x":-0.5,"y":-0.0212},{"s":200,"o":1,"x":-0.47,"y":-0.0170},{"s":200,"o":2,"x":-0.43,"y":-0.0136},{"s":200,"o":3,"x":-0.36,"y":-0.0118},{"s":200,"o":4,"x":-0.25,"y":-0.0112},{"s":200,"o":5,"x":-0.12,"y":-0.0106},{"s":200,"o":6,"x":0,"y":-0.0095},{"s":200,"o":7,"x":0.06,"y":-0.0078},{"s":200,"o":8,"x":0.1,"y":-0.0045},{"s":200,"o":9,"x":0.13,"y":0.0020},{"s":200,"o":10,"x":0.16,"y":0.0100},{"s":200,"o":11,"x":0.2,"y":0.0220},{"s":200,"o":12,"x":0.24,"y":0.0367},{"s":200,"o":13,"x":0.267,"y":0.0455},{"s":200,"o":14,"x":0.297,"y":0.0504},{"s":200,"o":15,"x":0.325,"y":0.0472},{"s":200,"o":16,"x":0.36,"y":0.0422},{"s":200,"o":17,"x":0.42,"y":0.0350},{"s":200,"o":18,"x":0.5,"y":0.0278},{"s":200,"o":19,"x":0.58,"y":0.0222},{"s":200,"o":20,"x":0.7,"y":0.0178},{"s":200,"o":21,"x":0.85,"y":0.0153},{"s":200,"o":22,"x":1,"y":0.0145},{"s":200,"o":23,"x":0.985,"y":0.0112},{"s":200,"o":24,"x":0.95,"y":0.0096},{"s":200,"o":25,"x":0.85,"y":0.0083},{"s":200,"o":26,"x":0.7,"y":0.0071},{"s":200,"o":27,"x":0.55,"y":0.0060},{"s":200,"o":28,"x":0.42,"y":0.0051},{"s":200,"o":29,"x":0.36,"y":0.0042},{"s":200,"o":30,"x":0.315,"y":0.0030},{"s":200,"o":31,"x":0.28,"y":0.0005},{"s":200,"o":32,"x":0.26,"y":-0.0015},{"s":200,"o":33,"x":0.245,"y":-0.0055},{"s":200,"o":34,"x":0.229,"y":-0.0099},{"s":200,"o":35,"x":0.2,"y":-0.0185},{"s":200,"o":36,"x":0.175,"y":-0.0255},{"s":200,"o":37,"x":0.155,"y":-0.0325},{"s":200,"o":38,"x":0.13,"y":-0.0440},{"s":200,"o":39,"x":0.107,"y":-0.0530},{"s":200,"o":40,"x":0.088,"y":-0.0573},{"s":200,"o":41,"x":0.072,"y":-0.0555},{"s":200,"o":42,"x":0.055,"y":-0.0500},{"s":200,"o":43,"x":0.035,"y":-0.0448},{"s":200,"o":44,"x":0.01,"y":-0.0408},{"s":200,"o":45,"x":-0.03,"y":-0.0360},{"s":200,"o":46,"x":-0.08,"y":-0.0320},{"s":200,"o":47,"x":-0.137,"y":-0.0287},{"s":200,"o":48,"x":-0.2,"y":-0.0266},{"s":200,"o":49,"x":-0.3,"y":-0.0245},{"s":200,"o":50,"x":-0.4,"y":-0.0222},{"s":200,"o":51,"x":-0.45,"y":-0.0214},{"s":200,"o":52,"x":-0.5,"y":-0.0212}
]},
"mark": {"type": "line", "strokeWidth": 5, "strokeJoin": "round", "strokeCap": "round", "interpolate": "catmull-rom"},
"encoding": {
  "x": {"field": "x", "type": "quantitative",
    "scale": {"domain": [-1, 1], "nice": false, "zero": false},
    "axis": {"values": [-1,-0.7,-0.6,-0.5,-0.4,-0.3,-0.2,-0.1,0,0.1,0.2,0.3,0.4,0.5,0.6,0.7,0.8,0.9,1],
      "labelExpr": "abs(round(datum.value*10)) % 5 == 0 ? (datum.value < 0 ? '-' : '') + format(abs(datum.value), '~g') : ''",
      "labelFlush": false, "labelOverlap": false, "grid": false,
      "domainColor": "black", "domainWidth": 2.5, "tickColor": "black", "tickWidth": 2, "tickSize": -7,
      "labelPadding": 37, "labelFont": "Open Sans", "labelFontWeight": "bold", "labelFontSize": 26, "labelColor": "black",
      "title": "Potential (V)", "titleFont": "Open Sans", "titleFontSize": 27, "titleFontWeight": "bold", "titleColor": "black",
      "titleY": 86, "titleBaseline": "middle"}},
  "y": {"field": "y", "type": "quantitative",
    "scale": {"domain": [-0.06, 0.06], "nice": false, "zero": false},
    "axis": {"values": [-0.06,-0.05,-0.04,-0.03,-0.02,-0.01,0,0.01,0.02,0.03,0.04,0.05,0.06],
      "labelExpr": "abs(round(datum.value*100)) % 2 == 0 ? (round(datum.value*100) == 0 ? '0' : (datum.value < 0 ? '-' : '') + '0.0' + abs(round(datum.value*100))) : ''",
      "labelOverlap": false, "grid": false, "offset": -131,
      "domainColor": "black", "domainWidth": 2.5, "tickColor": "black", "tickWidth": 2, "tickSize": -7,
      "labelPadding": 34, "labelFont": "Open Sans", "labelFontWeight": "bold", "labelFontSize": 26, "labelColor": "black",
      "title": "Current (mA)", "titleFont": "Open Sans", "titleFontSize": 27, "titleFontWeight": "bold", "titleColor": "black",
      "titleX": -282, "titleY": 254, "titleBaseline": "middle", "titleAlign": "center"}},
  "color": {"field": "s", "type": "nominal",
    "scale": {"domain": [50,60,70,80,90,100,110,120,130,140,150,160,170,180,190,200],
      "range": ["#3D6597","#9A3C3A","#7B9A44","#634D82","#368CA0","#CC7832","#4A7EBF","#C0504D","#9BBB59","#8064A2","#4BACC6","#F79646","#A6B9DB","#D9A7A6","#C4D7A3","#B5A9CB"]},
    "legend": {"orient": "none", "legendX": 939, "legendY": -32, "title": null,
      "symbolType": "stroke", "symbolSize": 3025, "symbolStrokeWidth": 5,
      "labelFont": "Open Sans", "labelFontSize": 23, "labelColor": "black", "labelLimit": 200,
      "clipHeight": 31, "rowPadding": 2, "labelOffset": 4, "padding": 0,
      "labelExpr": "datum.label + 'mV/s'"}},
  "order": {"field": "o", "type": "quantitative"}
}
}
